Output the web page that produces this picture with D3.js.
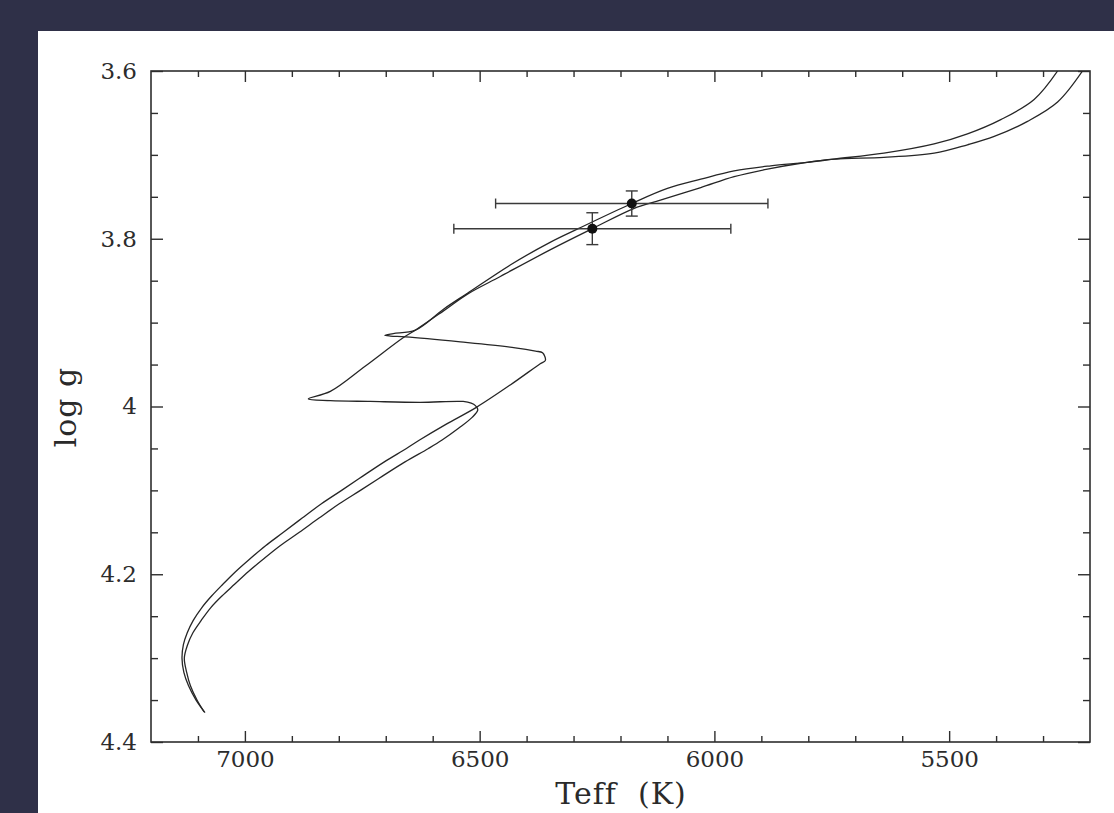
<!DOCTYPE html>
<html><head><meta charset="utf-8">
<script src="https://cdn.jsdelivr.net/npm/d3@7"></script>
<style>
html,body{margin:0;padding:0;background:#2f3048;overflow:hidden;}
svg{display:block}
</style></head><body>
<svg id="chart" width="1114" height="813"></svg>
<script>
// ---- data (Teff in K, log g) ----
const trackATeff = [7085,7104,7120,7130,7134,7131,7123,7110,7092,7071,7047,7020,6992,6956,6918,6878,6837,6794,6749,6703,6656,6628,6571,6507,6434,6371,6360,6366,6381,6424,6541,6658,6690,6702,6684,6637,6577,6526,6434,6349,6290,6176,6100,6029,5958,5880,5802,5745,5639,5532,5461,5390,5319,5269];
const trackALogg = [4.365,4.350,4.333,4.317,4.300,4.284,4.270,4.255,4.240,4.226,4.212,4.197,4.183,4.166,4.150,4.133,4.116,4.100,4.083,4.066,4.050,4.040,4.021,4.001,3.974,3.949,3.945,3.936,3.934,3.930,3.923,3.917,3.916,3.915,3.913,3.909,3.884,3.865,3.831,3.804,3.788,3.758,3.740,3.729,3.719,3.713,3.709,3.705,3.698,3.687,3.675,3.658,3.634,3.600];
const trackBTeff = [7087,7102,7116,7124,7129,7122,7111,7093,7073,7049,7022,6993,6963,6925,6884,6842,6799,6754,6707,6659,6609,6580,6545,6516,6504,6509,6518,6535,6626,6733,6818,6865,6818,6744,6663,6637,6577,6526,6456,6349,6260,6172,6115,6029,5958,5887,5816,5745,5639,5532,5461,5404,5333,5269,5216];
const trackBLogg = [4.364,4.350,4.333,4.317,4.300,4.284,4.270,4.255,4.240,4.226,4.212,4.197,4.183,4.166,4.150,4.133,4.116,4.100,4.083,4.066,4.050,4.040,4.026,4.013,4.004,3.999,3.996,3.994,3.995,3.994,3.993,3.991,3.982,3.952,3.918,3.909,3.886,3.866,3.845,3.813,3.788,3.764,3.754,3.739,3.726,3.717,3.710,3.705,3.703,3.698,3.688,3.678,3.660,3.637,3.600];
const starTeff = [6176, 6260];
const starTeffErr = [290, 295];
const starLogg = [3.758, 3.788];
const starLoggErr = [0.015, 0.019];
const xMajorTicks = [7000, 6500, 6000, 5500];
const yMajorTicks = [3.6, 3.8, 4, 4.2, 4.4];
const xLabel = "Teff  (K)";
const yLabel = "log g";

// ---- layout ----
const svg = d3.select("#chart");
const L = 151, R = 1090, T = 71, B = 742;
const x = d3.scaleLinear().domain([7200, 5200]).range([L, R]);
const y = d3.scaleLinear().domain([3.6, 4.4]).range([T, B]);
const ink = "#2e2e2e";

svg.append("rect").attr("x", 38).attr("y", 31).attr("width", 1114 - 38).attr("height", 813 - 31).attr("fill", "#ffffff");

const xMinor = d3.range(7100, 5200, -100).filter(v => v % 500 !== 0);
const yMinor = d3.range(1, 16).map(i => +(3.6 + i * 0.05).toFixed(2)).filter(v => Math.abs(v * 5 - Math.round(v * 5)) > 1e-6);

const font = "'DejaVu Serif', serif";
function styleAxis(g) {
  g.select(".domain").remove();
  g.selectAll(".tick line").attr("stroke", ink).attr("stroke-width", 1.4);
  g.selectAll(".tick text").attr("fill", "#2c2c2c").attr("font-family", font).attr("font-size", 23);
}
// bottom
svg.append("g").attr("transform", `translate(0,${B})`).call(d3.axisBottom(x).tickValues(xMinor).tickSize(-6).tickFormat("")).call(styleAxis);
svg.append("g").attr("transform", `translate(0,${B})`).call(d3.axisBottom(x).tickValues(xMajorTicks).tickSize(-11).tickPadding(9).tickFormat(d3.format("d"))).call(styleAxis);
// top
svg.append("g").attr("transform", `translate(0,${T})`).call(d3.axisTop(x).tickValues(xMinor).tickSize(-6).tickFormat("")).call(styleAxis);
svg.append("g").attr("transform", `translate(0,${T})`).call(d3.axisTop(x).tickValues(xMajorTicks).tickSize(-11).tickFormat("")).call(styleAxis);
// left
svg.append("g").attr("transform", `translate(${L},0)`).call(d3.axisLeft(y).tickValues(yMinor).tickSize(-7).tickFormat("")).call(styleAxis);
svg.append("g").attr("transform", `translate(${L},0)`).call(d3.axisLeft(y).tickValues(yMajorTicks).tickSize(-12).tickPadding(14).tickFormat(d3.format(""))).call(styleAxis);
// right
svg.append("g").attr("transform", `translate(${R},0)`).call(d3.axisRight(y).tickValues(yMinor).tickSize(-7).tickFormat("")).call(styleAxis);
svg.append("g").attr("transform", `translate(${R},0)`).call(d3.axisRight(y).tickValues(yMajorTicks).tickSize(-12).tickFormat("")).call(styleAxis);

// frame
svg.append("rect").attr("x", L).attr("y", T).attr("width", R - L).attr("height", B - T)
  .attr("fill", "none").attr("stroke", ink).attr("stroke-width", 1.6);

// clip
svg.append("clipPath").attr("id", "clip").append("rect").attr("x", L).attr("y", T).attr("width", R - L).attr("height", B - T);

const line = d3.line().x(d => x(d[0])).y(d => y(d[1])).curve(d3.curveCatmullRom.alpha(0.5));
const tracks = [d3.zip(trackATeff, trackALogg), d3.zip(trackBTeff, trackBLogg)];
svg.append("g").attr("clip-path", "url(#clip)").selectAll("path").data(tracks).join("path")
  .attr("d", line).attr("fill", "none").attr("stroke", "#262626").attr("stroke-width", 1.3).attr("stroke-linejoin", "round");

// stars with error bars
const stars = starTeff.map((t, i) => ({t, et: starTeffErr[i], g: starLogg[i], eg: starLoggErr[i]}));
const eb = svg.append("g").attr("stroke", "#3a3a3a").attr("stroke-width", 1.4).attr("fill", "none");
stars.forEach(s => {
  const cx = x(s.t), cy = y(s.g);
  const x0 = x(s.t + s.et), x1 = x(s.t - s.et), y0 = y(s.g - s.eg), y1 = y(s.g + s.eg);
  eb.append("line").attr("x1", x0).attr("x2", x1).attr("y1", cy).attr("y2", cy);
  eb.append("line").attr("x1", x0).attr("x2", x0).attr("y1", cy - 5).attr("y2", cy + 5);
  eb.append("line").attr("x1", x1).attr("x2", x1).attr("y1", cy - 5).attr("y2", cy + 5);
  eb.append("line").attr("x1", cx).attr("x2", cx).attr("y1", y0).attr("y2", y1);
  eb.append("line").attr("x1", cx - 6).attr("x2", cx + 6).attr("y1", y0).attr("y2", y0);
  eb.append("line").attr("x1", cx - 6).attr("x2", cx + 6).attr("y1", y1).attr("y2", y1);
});
svg.append("g").selectAll("circle").data(stars).join("circle")
  .attr("cx", d => x(d.t)).attr("cy", d => y(d.g)).attr("r", 5).attr("fill", "#111");

// axis titles
svg.append("text").attr("x", 621).attr("y", 804).attr("text-anchor", "middle")
  .attr("font-family", font).attr("font-size", 30).attr("letter-spacing", 1).attr("fill", "#2a2a2a")
  .style("white-space", "pre").text(xLabel);
svg.append("text").attr("transform", "translate(76,407) rotate(-90)").attr("text-anchor", "middle")
  .attr("font-family", font).attr("font-size", 30).attr("letter-spacing", 1).attr("fill", "#2a2a2a")
  .style("white-space", "pre").text(yLabel);
</script>
</body></html>
